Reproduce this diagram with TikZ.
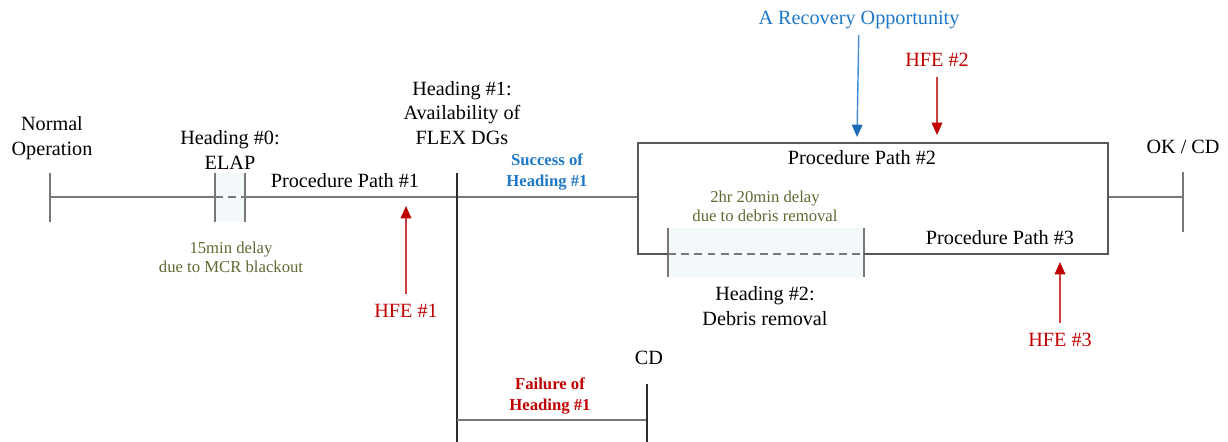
\documentclass[tikz,border=0pt]{standalone}
\usepackage{fontspec}
\setmainfont{Liberation Serif}
\usepackage{xcolor}
\usepackage{tikz}
\usetikzlibrary{arrows.meta,positioning}
\definecolor{linegray}{RGB}{120,120,120}
\definecolor{darkline}{RGB}{45,45,45}
\definecolor{hfered}{RGB}{192,0,0}
\definecolor{recblue}{RGB}{30,120,200}
\definecolor{delaygreen}{RGB}{95,105,50}
\definecolor{shadeblue}{RGB}{243,248,251}
\tikzset{
  txt/.style={align=center, inner sep=0pt, font=\fontsize{11.5}{14}\selectfont},
  delay/.style={txt, text=delaygreen, font=\fontsize{9.5}{10.8}\selectfont},
  branch/.style={txt, font=\bfseries\fontsize{9.5}{12}\selectfont},
  timeline/.style={draw=linegray, line width=0.8pt},
  dashline/.style={timeline, dash pattern=on 4.5pt off 3pt},
  hfe/.style={-{Triangle[length=7pt,width=6pt,color=hfered]}, draw=hfered!75, line width=0.8pt, shorten <=2mm},
  recovery/.style={-{Triangle[length=7pt,width=6pt,color=recblue!90!black]}, draw=recblue!85, line width=0.8pt, shorten <=1.2mm}
}
\begin{document}
\begin{tikzpicture}[x=0.02cm, y=-0.02cm]
        \useasboundingbox (0,0) rectangle (1228,442);
        \coordinate (t0) at (50,197);
        \coordinate (e1) at (215,197);
        \coordinate (e2) at (245,197);
        \coordinate (h1) at (457,197);
        \coordinate (bxl) at (638,197);
        \coordinate (bxr) at (1108,197);
        \coordinate (ok) at (1183,197);
        \coordinate (d1) at (668,254);
        \coordinate (d2) at (864,254);
        \coordinate (fl) at (457,420);
        \coordinate (cd) at (647,420);
        \fill[shadeblue] (215,173) rectangle (245,222);
        \fill[shadeblue] (668,228) rectangle (864,277);
        \node[txt] (normal) at (52,138) {Normal\\Operation};
        \node[txt] (head0) at (230,150) {Heading \#0:\\ELAP};
        \node[txt] (head1) at (462,113) {Heading \#1:\\Availability of\\FLEX DGs};
        \node[txt] (path1) at (345,181) {Procedure Path \#1};
        \node[delay] (delay0) at (231,257) {15min delay\\due to MCR blackout};
        \node[branch, text=recblue] (success) at (547,172) {Success of\\Heading \#1};
        \node[branch, text=hfered] (failure) at (550,396) {Failure of\\Heading \#1};
        \node[txt] (cdlabel) at (649,358) {CD};
        \node[txt] (path2) at (862,158) {Procedure Path \#2};
        \node[delay] (delay2) at (765,206) {2hr 20min delay\\due to debris removal};
        \node[txt] (path3) at (1000,238) {Procedure Path \#3};
        \node[txt] (head2) at (765,306) {Heading \#2:\\Debris removal};
        \node[txt] (oklabel) at (1183,147) {OK / CD};
        \node[txt, text=recblue] (recov) at (859,20) {A Recovery Opportunity};
        \node[txt, text=hfered] (hfe2) at (937,60) {HFE \#2};
        \node[txt, text=hfered] (hfe1) at (406,311) {HFE \#1};
        \node[txt, text=hfered] (hfe3) at (1060,340) {HFE \#3};
        \coordinate (recovtip) at (857,137);
        \coordinate (hfe2tip) at (937,135);
        \coordinate (hfe1tip) at (406,206);
        \coordinate (hfe3tip) at (1060,262);
        \draw[timeline] (t0) -- (e1);
        \draw[dashline] (e1) -- (e2);
        \draw[timeline] (e2) -- (bxl);
        \draw[timeline] (bxr) -- (ok);
        \draw[timeline] (t0) ++(0,-24) -- ++(0,49);
        \draw[timeline] (e1) ++(0,-24) -- ++(0,49);
        \draw[timeline] (e2) ++(0,-24) -- ++(0,49);
        \draw[timeline] (ok) ++(0,-25) -- ++(0,60);
        \draw[timeline] (d1) ++(0,-26) -- ++(0,49);
        \draw[timeline] (d2) ++(0,-26) -- ++(0,49);
        \draw[timeline, draw=darkline!80] (d1) -- (638,254) -- (638,143) -- (1108,143) -- (1108,254) -- (d2);
        \draw[dashline] (d1) -- (d2);
        \draw[darkline, line width=0.8pt] (457,173) -- (457,442);
        \draw[timeline] (fl) -- (cd);
        \draw[darkline, line width=0.8pt] (cd) ++(0,-36) -- (647,442);
        \draw[recovery] (recov) -- (recovtip);
        \draw[hfe] (hfe2) -- (hfe2tip);
        \draw[hfe] (hfe1) -- (hfe1tip);
        \draw[hfe] (hfe3) -- (hfe3tip);
    \end{tikzpicture}
\end{document}
